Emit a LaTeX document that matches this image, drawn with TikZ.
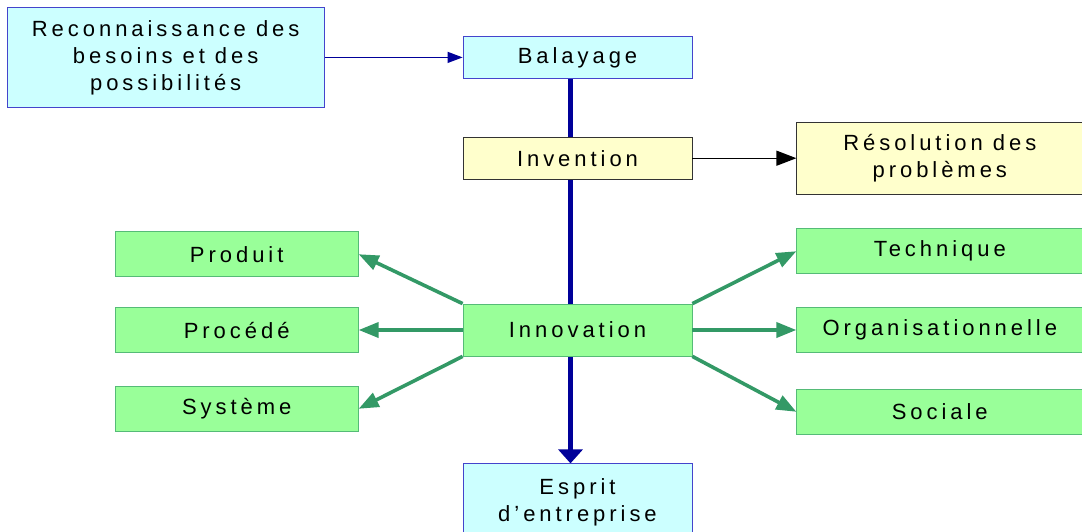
\documentclass[tikz,border=0pt]{standalone}
\usepackage{fontspec}
\setmainfont{Liberation Sans}[LetterSpace=18]
\usepackage{xcolor}
\usetikzlibrary{positioning,arrows.meta,backgrounds}

\definecolor{paleblue}{HTML}{CCFFFF}
\definecolor{edgeblue}{HTML}{4444CC}
\definecolor{paleyellow}{HTML}{FFFFCC}
\definecolor{edgegray}{HTML}{333333}
\definecolor{palegreen}{HTML}{99FF99}
\definecolor{edgegreen}{HTML}{55BB77}
\definecolor{arrowgreen}{HTML}{339966}
\definecolor{darkblue}{HTML}{000099}

\begin{document}
\begin{tikzpicture}[
    box/.style={
        draw,
        rectangle,
        line width=0.8pt,
        inner sep=0pt,
        minimum width=229pt,
        minimum height=42pt,
        align=center,
        font=\fontsize{22pt}{27pt}\selectfont
    },
    bluebox/.style={box, fill=paleblue, draw=edgeblue},
    yellowbox/.style={box, fill=paleyellow, draw=edgegray},
    greenbox/.style={box, fill=palegreen, draw=edgegreen, minimum height=45pt},
    arrow/.style={-{Triangle[length=15pt,width=11pt]}, line width=1.2pt, draw=darkblue},
    branch/.style={-{Triangle[length=20pt,width=15pt]}, line width=3.6pt, draw=arrowgreen}
]

\useasboundingbox (0pt,0pt) rectangle (1082pt,-531pt);

% centre of the diagram
\node[greenbox, minimum height=52pt] (innovation) at (577.5pt,-330pt) {Innovation};

\node[yellowbox, above=124pt of innovation] (invention) {Invention};
\node[bluebox, above=58pt of invention] (balayage) {Balayage};
\node[bluebox, below=107pt of innovation, minimum height=78pt] (esprit) {
Esprit \\
d'entreprise
};

\node[bluebox, left=138pt of balayage, minimum width=317pt, minimum height=100pt] (besoins) {
Reconnaissance des \\
besoins et des \\
possibilités
};

\node[yellowbox, right=104pt of invention, minimum width=286pt, minimum height=72pt] (resolution) {
Résolution des \\
problèmes
};

% left branches
\node[greenbox, left=104pt of innovation, minimum width=243pt] (procede) {Procédé};
\node[greenbox, above=30pt of procede, minimum width=243pt] (produit) {Produit};
\node[greenbox, below=33pt of procede, minimum width=243pt] (systeme) {Système};

% right branches
\node[greenbox, right=104pt of innovation, minimum width=286pt] (organisation) {Organisationnelle};
\node[greenbox, above=33pt of organisation, minimum width=286pt] (technique) {Technique};
\node[greenbox, below=36pt of organisation, minimum width=286pt] (sociale) {Sociale};

\begin{scope}[on background layer]
\draw[-{Triangle[length=14pt,width=24pt]}, line width=4.5pt, darkblue]
    ([xshift=-7pt]balayage.south) -- ([xshift=-7pt]esprit.north);
\end{scope}

\draw[arrow] (besoins) -- (balayage);
\draw[arrow, draw=black, -{Triangle[length=20pt,width=15pt]}, line width=1.3pt] (invention) -- (resolution);

\draw[branch] (innovation.north west) -- (produit.east);
\draw[branch] (innovation.west) -- (procede.east);
\draw[branch] (innovation.south west) -- (systeme.east);
\draw[branch] (innovation.north east) -- (technique.west);
\draw[branch] (innovation.east) -- (organisation.west);
\draw[branch] (innovation.south east) -- (sociale.west);

\end{tikzpicture}
\end{document}
